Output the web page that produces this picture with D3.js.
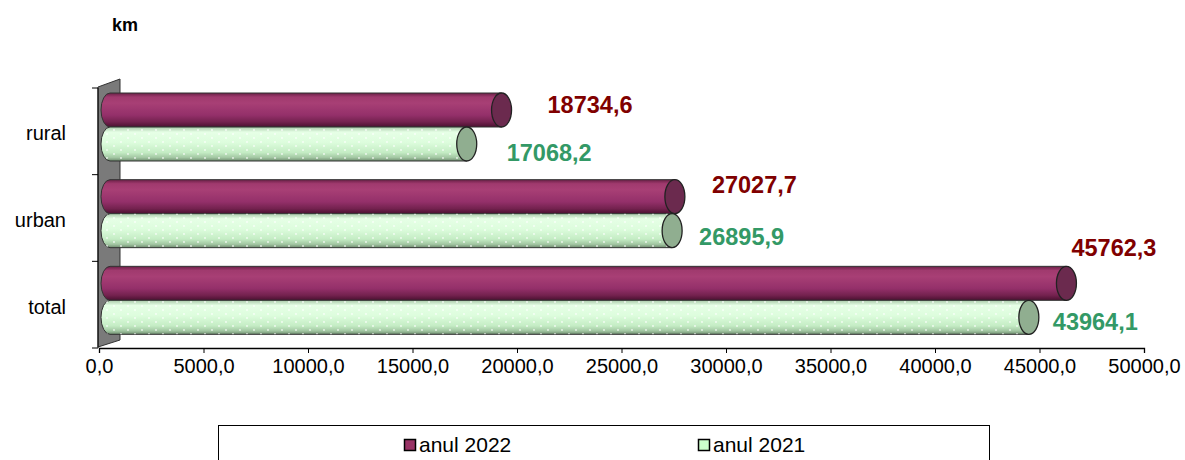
<!DOCTYPE html>
<html>
<head>
<meta charset="utf-8">
<script src="https://cdn.jsdelivr.net/npm/d3@7"></script>
<style>
  body { margin: 0; background: #fff; }
  svg { display: block; font-family: Arial, "Liberation Sans", sans-serif; }
</style>
</head>
<body>
<svg id="chart" width="1185" height="460"></svg>
<script>
// data
var categories = ['rural', 'urban', 'total'];
var seriesNames = ['anul 2022', 'anul 2021'];
var values2022 = [18734.6, 27027.7, 45762.3];
var values2021 = [17068.2, 26895.9, 43964.1];
var xTicks = [0, 5000, 10000, 15000, 20000, 25000, 30000, 35000, 40000, 45000, 50000];

// labels were dragged by hand in the original, so nudge them (layout only)
var labelNudge = [
  [[57, 3], [51, 17]],
  [[48, -4], [38, 14]],
  [[16, -27], [35, 13]]
];

var svg = d3.select('#chart');
var defs = svg.append('defs');
var depth = 11; // 3d shift of the bars to the right

var x = d3.scaleLinear().domain([0, 50000]).range([99, 1144]);
var y = d3.scaleBand().domain(categories).range([88, 348]);
var inner = d3.scaleBand().domain(seriesNames).range([5, 73]);

var fmt = function(v) { return v.toFixed(1).replace('.', ','); };

var series = [
  { name: seriesNames[0], values: values2022, grad: 'g2022', cap: '#6b2a4e', label: '#800000', swatch: '#993366' },
  { name: seriesNames[1], values: values2021, grad: 'g2021', cap: '#90ae90', label: '#339966', swatch: '#ccffcc' }
];

var addGrad = function(id, stops) {
  var g = defs.append('linearGradient').attr('id', id)
    .attr('x1', 0).attr('y1', 0).attr('x2', 0).attr('y2', 1);
  stops.forEach(function(s) {
    g.append('stop').attr('offset', s[0]).attr('stop-color', s[1]);
  });
};
addGrad('g2022', [[0, '#6a1f46'], [0.12, '#a03a6e'], [0.3, '#a83f75'], [0.65, '#94306a'], [0.85, '#74224f'], [1, '#4a1030']]);
addGrad('g2021', [[0, '#a9c9a9'], [0.15, '#e6ffe6'], [0.45, '#ddfddd'], [0.75, '#c4ecc4'], [0.9, '#a2c6a2'], [1, '#6d8a6d']]);

var dots = defs.append('pattern').attr('id', 'dots')
  .attr('width', 14).attr('height', 8).attr('patternUnits', 'userSpaceOnUse');
dots.append('circle').attr('cx', 2).attr('cy', 2).attr('r', 0.9).attr('fill', '#fff').attr('opacity', 0.8);
dots.append('circle').attr('cx', 9).attr('cy', 6).attr('r', 0.9).attr('fill', '#fff').attr('opacity', 0.8);

// back wall
svg.append('polygon')
  .attr('points', [[98, 87], [120, 79], [120, 340], [98, 347]].join(' '))
  .attr('fill', '#7a7a7a').attr('stroke', '#333').attr('stroke-width', 1);

// axes
svg.append('line').attr('x1', 98).attr('x2', 98).attr('y1', 88).attr('y2', 348)
  .attr('stroke', '#000');
svg.selectAll('.ytick').data(categories.concat(['end'])).enter().append('line')
  .attr('x1', 92).attr('x2', 98)
  .attr('y1', function(d, i) { return 88 + i * y.bandwidth(); })
  .attr('y2', function(d, i) { return 88 + i * y.bandwidth(); })
  .attr('stroke', '#000');

var xAxis = d3.axisBottom(x).tickValues(xTicks).tickFormat(fmt).tickSizeOuter(0).tickSize(5).tickPadding(6);
var xg = svg.append('g').attr('transform', 'translate(0,348)').call(xAxis);
xg.select('.domain').attr('stroke', '#000').attr('stroke-width', 1.3);
xg.selectAll('.tick line').attr('stroke', '#000');
xg.selectAll('.tick text').attr('font-size', 20).attr('fill', '#000')
  .attr('font-family', 'Arial, "Liberation Sans", sans-serif');

svg.selectAll('.cat').data(categories).enter().append('text')
  .attr('x', 66).attr('y', function(d) { return y(d) + y.bandwidth() / 2 + 9; })
  .attr('text-anchor', 'end').attr('font-size', 20).attr('fill', '#000')
  .text(function(d) { return d; });

// cylinders
categories.forEach(function(cat, ci) {
  series.forEach(function(s, si) {
    var top = y(cat) + inner(s.name);
    var h = inner.bandwidth();
    var x0 = x(0) + depth;
    var x1 = x(s.values[ci]) + depth;
    var g = svg.append('g');
    var body = 'M' + x0 + ',' + top + 'L' + x1 + ',' + top + 'L' + x1 + ',' + (top + h) +
      'L' + x0 + ',' + (top + h) + 'A9,' + (h / 2) + ' 0 0 1 ' + x0 + ',' + top + 'Z';
    g.append('path').attr('d', body).attr('fill', 'url(#' + s.grad + ')')
      .attr('stroke', '#333').attr('stroke-width', 1);
    if (si === 1) g.append('path').attr('d', body).attr('fill', 'url(#dots)');
    g.append('ellipse').attr('cx', x1).attr('cy', top + h / 2)
      .attr('rx', 10).attr('ry', h / 2)
      .attr('fill', s.cap).attr('stroke', '#222').attr('stroke-width', 1.3);
  });
});

// value labels
categories.forEach(function(cat, ci) {
  series.forEach(function(s, si) {
    var nudge = labelNudge[ci][si];
    var cy = y(cat) + inner(s.name) + inner.bandwidth() / 2;
    svg.append('text')
      .attr('x', x(s.values[ci]) + nudge[0])
      .attr('y', cy + nudge[1])
      .attr('font-size', 23.5).attr('font-weight', 'bold')
      .attr('fill', s.label)
      .text(fmt(s.values[ci]));
  });
});

svg.append('text').attr('x', 112).attr('y', 31)
  .attr('font-size', 18).attr('font-weight', 'bold').text('km');

// legend
svg.append('rect').attr('x', 218.5).attr('y', 425.5).attr('width', 771).attr('height', 60)
  .attr('fill', '#fff').attr('stroke', '#000').attr('stroke-width', 1);
var legendX = [404, 698];
series.forEach(function(s, i) {
  svg.append('rect').attr('x', legendX[i] + 0.5).attr('y', 439.5).attr('width', 11).attr('height', 11)
    .attr('fill', s.swatch).attr('stroke', '#000').attr('stroke-width', 1.5);
  svg.append('text').attr('x', legendX[i] + 15).attr('y', 452)
    .attr('font-size', 21).attr('fill', '#000').text(s.name);
});
</script>
</body>
</html>
